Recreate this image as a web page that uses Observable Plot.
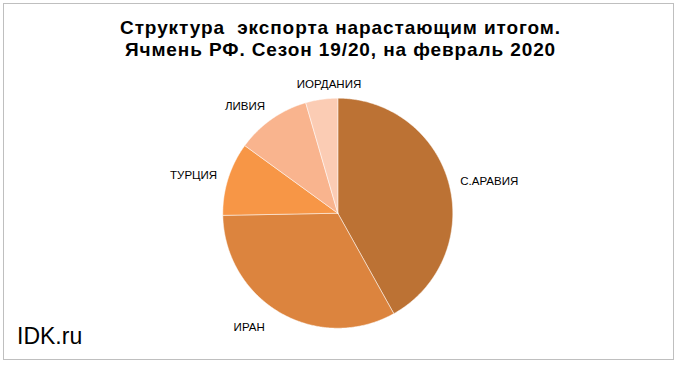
<!DOCTYPE html>
<html>
<head>
<meta charset="utf-8">
<script src="https://cdn.jsdelivr.net/npm/d3@7"></script>
<script src="https://cdn.jsdelivr.net/npm/@observablehq/plot@0.6"></script>
<style>
  html, body { margin: 0; padding: 0; background: white; }
</style>
</head>
<body>
<div id="chart"></div>
<script>
// Data
const countries = ["С.АРАВИЯ", "ИРАН", "ТУРЦИЯ", "ЛИВИЯ", "ИОРДАНИЯ"];
const shares = [41.9, 32.8, 10.3, 10.5, 4.5];
const colors = ["#BC7234", "#DC843E", "#F79646", "#F9B48E", "#FBCCB4"];
const titleLines = ["Структура  экспорта нарастающим итогом.", "Ячмень РФ. Сезон 19/20, на февраль 2020"];
const sourceText = "IDK.ru";

const rows = countries.map((c, i) => ({country: c, share: shares[i]}));
const arcs = d3.pie().sort(null).value(d => d.share)(rows);

// Slice polygons in unit-circle coordinates (angle 0 at top, clockwise)
const polyPts = [];
arcs.forEach(a => {
  const name = a.data.country;
  polyPts.push({country: name, x: 0, y: 0});
  const n = Math.max(4, Math.ceil((a.endAngle - a.startAngle) / (Math.PI / 360)));
  for (let k = 0; k <= n; k++) {
    const t = a.startAngle + (a.endAngle - a.startAngle) * k / n;
    polyPts.push({country: name, x: Math.sin(t), y: Math.cos(t)});
  }
  polyPts.push({country: name, x: 0, y: 0});
});

// Labels placed outside along mid-angle
const labelR = 1.1;
const labels = arcs.map(a => {
  const m = (a.startAngle + a.endAngle) / 2;
  const s = Math.sin(m), c = Math.cos(m);
  return {
    country: a.data.country,
    x: labelR * s, y: labelR * c,
    ta: s > 0.3 ? "start" : s < -0.3 ? "end" : "middle",
    la: c > 0.7 ? "bottom" : c < -0.7 ? "top" : "middle"
  };
});
const labelMarks = [];
for (const ta of ["start", "middle", "end"]) {
  for (const la of ["top", "middle", "bottom"]) {
    const sub = labels.filter(d => d.ta === ta && d.la === la);
    if (sub.length) labelMarks.push(Plot.text(sub, {
      x: "x", y: "y", text: "country", textAnchor: ta, lineAnchor: la,
      dx: ta === "middle" ? 9 : (la === "top" ? -10 : 0),
      fontSize: 11.5, fill: "#000"
    }));
  }
}

const chart = Plot.plot({
  width: 680,
  height: 367,
  margin: 0,
  style: {fontFamily: "'Liberation Sans', Arial, sans-serif", background: "white"},
  x: {domain: [-1, 1], range: [222.3, 452.3], axis: null},
  y: {domain: [-1, 1], range: [327.7, 97.7], axis: null},
  color: {domain: countries, range: colors},
  marks: [
    Plot.frame({stroke: "#bfbfbf", insetLeft: 3, insetTop: 3, insetRight: 7, insetBottom: 8}),
    Plot.line(polyPts, {x: "x", y: "y", z: "country", fill: "country", stroke: "white", strokeWidth: 0.5, curve: "linear"}),
    ...labelMarks,
    Plot.text([titleLines[0]], {frameAnchor: "top", text: d => d, dy: 33, lineAnchor: "bottom", fontSize: 19, fontWeight: "bold", fill: "#000"}),
    Plot.text([titleLines[1]], {frameAnchor: "top", text: d => d, dy: 55, lineAnchor: "bottom", fontSize: 19, fontWeight: "bold", fill: "#000"}),
    Plot.text([sourceText], {frameAnchor: "top-left", text: d => d, dx: 16.5, dy: 343.3, lineAnchor: "bottom", textAnchor: "start", fontSize: 23, fill: "#000"})
  ]
});
d3.select(chart).selectAll("g[font-weight=bold]").attr("letter-spacing", "0.9");
document.getElementById("chart").appendChild(chart);
</script>
</body>
</html>
